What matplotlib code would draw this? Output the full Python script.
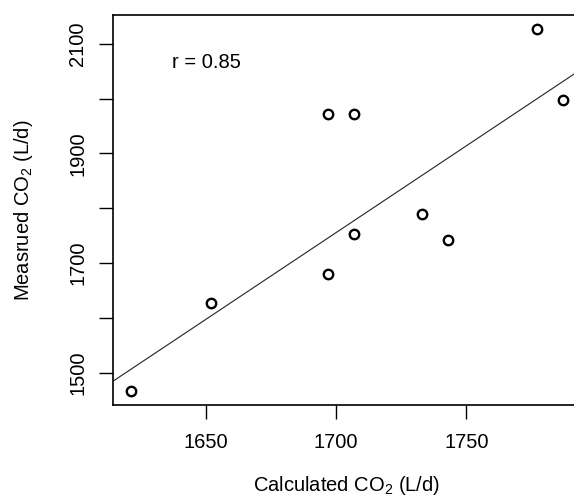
import numpy as np
import matplotlib
matplotlib.use("Agg")
import matplotlib.pyplot as plt

plt.rcParams['font.family'] = ['Liberation Sans', 'DejaVu Sans']
plt.rcParams['mathtext.fontset'] = 'custom'
plt.rcParams['mathtext.rm'] = 'Liberation Sans'

# Calculated vs. measured daily CO2 output (L/d)
calculated = [1621, 1652, 1697, 1697, 1707, 1707, 1733, 1743, 1777, 1787]
measured = [1468, 1628, 1681, 1972, 1972, 1753, 1790, 1743, 2126, 1998]
# trend line coefficients (measured = slope * calculated + intercept)
line_slope = 3.16
line_intercept = -3616
x_ticks = [1650, 1700, 1750]
y_ticks = [1500, 1600, 1700, 1800, 1900, 2000, 2100]
y_ticklabels = ['1500', '', '1700', '', '1900', '', '2100']
r_label = "r = 0.85"

fig = plt.figure(figsize=(5.74, 5.00), dpi=100)
W, H = 574, 500
left, right, top, bottom = 113.3, 580, 15, 405
ax = fig.add_axes([left / W, 1 - bottom / H, (right - left) / W, (bottom - top) / H])

ax.plot(calculated, measured, linestyle='none', marker='o', markersize=6.8,
        markerfacecolor='white', markeredgecolor='black', markeredgewidth=1.7,
        zorder=3)

# trend line spanning the whole plot width
xr = np.array([1600, 1800])
ax.plot(xr, line_slope * xr + line_intercept, color='#222222', linewidth=0.8,
        zorder=2)

xmin, xmax = min(calculated), max(calculated)
ymin, ymax = min(measured), max(measured)
dx, dy = 0.04 * (xmax - xmin), 0.04 * (ymax - ymin)
ax.set_xlim(xmin - dx, xmax + dx)
ax.set_ylim(ymin - dy, ymax + dy)

ax.set_xticks(x_ticks)
ax.set_xticklabels([str(t) for t in x_ticks])
ax.set_yticks(y_ticks)
ax.set_yticklabels(y_ticklabels, rotation=90, va='center')

ax.tick_params(axis='both', direction='out', length=9.8, width=1.0,
               labelsize=14.5, colors='black')
ax.tick_params(axis='x', pad=10.5)
ax.tick_params(axis='y', pad=9)

for sp in ax.spines.values():
    sp.set_linewidth(1.2)

ax.set_xlabel(r"Calculated CO$_2$ (L/d)", fontsize=14.5, labelpad=16)
ax.set_ylabel(r"Measrued CO$_2$ (L/d)", fontsize=14.5, labelpad=24)

ax.text(1637, 2065, r_label, fontsize=14.5, ha='left', va='center')

fig.savefig("out.png", dpi=100)
